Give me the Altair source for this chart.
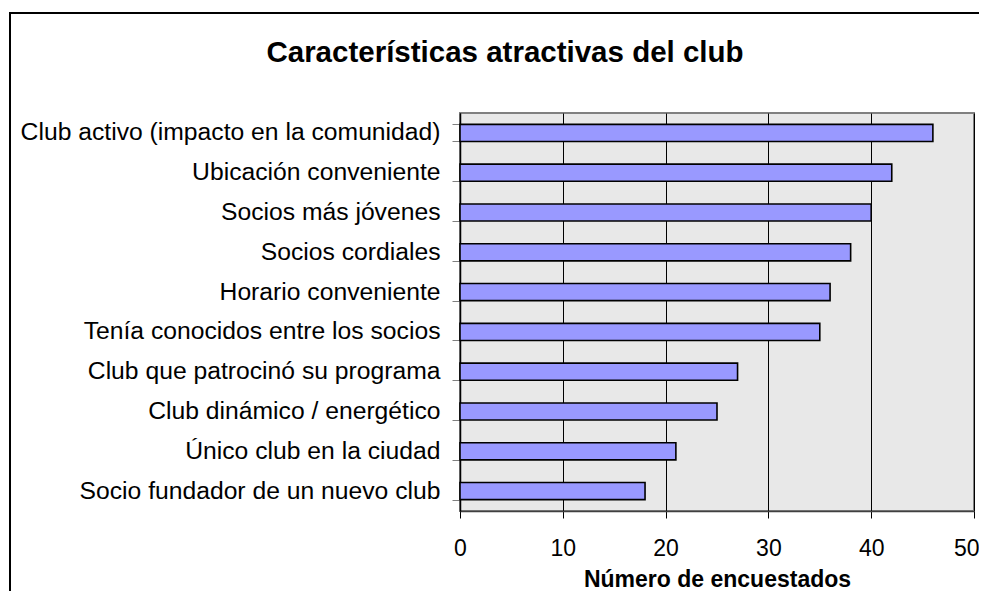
import altair as alt
import pandas as pd

categories = [
    "Club activo (impacto en la comunidad)",
    "Ubicación conveniente",
    "Socios más jóvenes",
    "Socios cordiales",
    "Horario conveniente",
    "Tenía conocidos entre los socios",
    "Club que patrocinó su programa",
    "Club dinámico / energético",
    "Único club en la ciudad",
    "Socio fundador de un nuevo club",
]
values = [46, 42, 40, 38, 36, 35, 27, 25, 21, 18]
x_ticks = [0, 10, 20, 30, 40, 50]
title_text = ["Características atractivas del club"]

df = pd.DataFrame({"cat": categories, "val": values})

FONT = "Liberation Sans"

bars = alt.Chart(df).mark_bar(
    fill="#9999FF", stroke="#000000", strokeWidth=1.6
).encode(
    x=alt.X(
        "val:Q",
        scale=alt.Scale(domain=[0, 50], nice=False),
        axis=alt.Axis(
            values=x_ticks,
            title="Número de encuestados",
            titleFont=FONT,
            titleFontSize=23,
            titleFontWeight="bold",
            titleColor="#000000",
            titlePadding=8,
            labelFont=FONT,
            labelFontSize=23,
            labelColor="#000000",
            labelPadding=19,
            labelAlign={"condition": {"test": "datum.value == 50", "value": "right"}, "value": "center"},
            labelOffset={"condition": {"test": "datum.value == 50", "value": 5}, "value": 0},
            tickSize=7,
            tickColor="#000000",
            domainColor="#404040",
            domainWidth=1.5,
            grid=True,
            gridColor="#000000",
            gridWidth=1,
            labelFlush=False,
        ),
    ),
    y=alt.Y(
        "cat:N",
        sort=categories,
        scale=alt.Scale(paddingInner=0.57, paddingOuter=0.285),
        axis=alt.Axis(
            title=None,
            labelFont=FONT,
            labelFontSize=24.7,
            labelColor="#000000",
            labelPadding=12,
            tickSize=8,
            tickColor="#808080",
            tickBand="extent",
            domainColor="#000000",
            domainWidth=1.5,
            grid=False,
            labelLimit=0,
        ),
    ),
)

frame = alt.Chart(df).mark_rect(
    filled=False, stroke="#000000", strokeWidth=1.5
).encode(
    x=alt.value(-450), x2=alt.value(600), y=alt.value(-100), y2=alt.value(600)
)

title = alt.Chart(pd.DataFrame({"t": title_text})).mark_text(
    font=FONT, fontSize=29.5, fontWeight="bold", color="#000000",
    align="center", baseline="alphabetic"
).encode(
    text="t:N", x=alt.value(45), y=alt.value(-51)
)

chart = alt.layer(frame, bars, title).properties(
    width=514,
    height=398,
    padding={"left": 452, "top": 105, "right": 5, "bottom": 80},
    autosize=alt.AutoSizeParams(type="none"),
    background="#FFFFFF",
).configure_view(
    fill="#E8E8E8", stroke="#808080", strokeWidth=2
)

chart.save("out.html", embed_options={"renderer": "svg", "actions": False})
